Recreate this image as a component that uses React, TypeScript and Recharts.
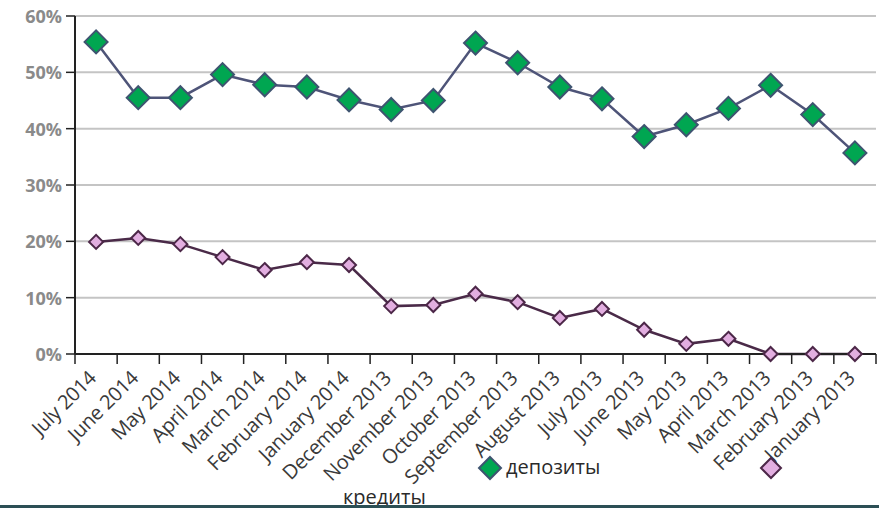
import React from "react";
import {
  LineChart,
  Line,
  XAxis,
  YAxis,
  CartesianGrid,
} from "recharts";

const months = [
  "July 2014",
  "June 2014",
  "May 2014",
  "April 2014",
  "March 2014",
  "February 2014",
  "January 2014",
  "December 2013",
  "November 2013",
  "October 2013",
  "September 2013",
  "August 2013",
  "July 2013",
  "June 2013",
  "May 2013",
  "April 2013",
  "March 2013",
  "February 2013",
  "January 2013",
];

// shares, in percent
const deposits = [
  55.4, 45.5, 45.5, 49.6, 47.8, 47.4, 45.1, 43.4, 45.0, 55.2, 51.7, 47.4,
  45.3, 38.6, 40.7, 43.6, 47.7, 42.5, 35.7,
];
const credits = [
  19.9, 20.6, 19.5, 17.2, 14.9, 16.3, 15.8, 8.5, 8.7, 10.7, 9.2, 6.4, 8.0,
  4.3, 1.8, 2.7, 0, 0, 0,
];
const yTicks = [0, 10, 20, 30, 40, 50, 60];
const seriesNames = ["депозиты", "кредиты"];

const W = 879;
const H = 508;
const LEFT = 75;
const RIGHT = 3;
const TOP = 16;
const X_AXIS_H = 154;
const BAND = (W - LEFT - RIGHT) / months.length;

const rows = months.map((m, i) => ({
  month: m,
  deposits: deposits[i],
  credits: credits[i],
}));

const FONT = "'Open Sans', 'DejaVu Sans', sans-serif";

function diamond(size: number, fill: string, stroke: string, sw: number) {
  return (props: any) => {
    const { cx, cy, index } = props;
    if (cx == null || cy == null) return <g key={index} />;
    const r = size / 2;
    return (
      <path
        key={index}
        d={`M${cx},${cy - r}L${cx + r},${cy}L${cx},${cy + r}L${cx - r},${cy}Z`}
        fill={fill}
        stroke={stroke}
        strokeWidth={sw}
      />
    );
  };
}

const depositDot = diamond(23, "#00a651", "#3e5470", 2);
const creditDot = diamond(14, "#e2aee0", "#4c2748", 2);

// Month labels rotated 45°, with tick marks placed between categories
function MonthTick(props: any) {
  const { x, y, payload, index } = props;
  const left = x - BAND / 2;
  const ax = x - 4;
  const ay = y + 12;
  return (
    <g>
      <line x1={left} y1={y - 8} x2={left} y2={y + 2} stroke="#222" strokeWidth={1.5} />
      {index === months.length - 1 && (
        <line x1={x + BAND / 2} y1={y - 8} x2={x + BAND / 2} y2={y + 2} stroke="#222" strokeWidth={1.5} />
      )}
      <text
        x={ax}
        y={ay}
        transform={`rotate(-45, ${ax}, ${ay})`}
        textAnchor="end"
        dominantBaseline="central"
        fontFamily={FONT}
        fontSize={20}
        letterSpacing={-0.3}
        fill="#3a3a3a"
      >
        {payload.value}
      </text>
    </g>
  );
}

function PercentTick(props: any) {
  const { x, y, payload } = props;
  return (
    <text
      x={x - 2}
      y={y}
      textAnchor="end"
      dominantBaseline="central"
      fontFamily={FONT}
      fontSize={18}
      fontWeight={700}
      fill="#8a8a8a"
    >
      {payload.value}%
    </text>
  );
}

// Legend laid over the lower part of the chart
function LegendOverlay() {
  const text = {
    position: "absolute" as const,
    fontFamily: FONT,
    fontSize: 20,
    color: "#2a2a2a",
    lineHeight: "22px",
    whiteSpace: "nowrap" as const,
  };
  return (
    <>
      <svg
        width={W}
        height={H}
        style={{ position: "absolute", left: 0, top: 0, pointerEvents: "none" }}
      >
        <path d="M490,457L501,468L490,479L479,468Z" fill="#00a651" stroke="#3e5470" strokeWidth={2} />
        <path d="M771,458L781,468L771,478L761,468Z" fill="#e2aee0" stroke="#4c2748" strokeWidth={2} />
      </svg>
      <div style={{ ...text, left: 506, top: 456 }}>{seriesNames[0]}</div>
      <div style={{ ...text, left: 343, top: 486 }}>{seriesNames[1]}</div>
    </>
  );
}

export default function App() {
  return (
    <div
      style={{
        position: "absolute",
        left: 0,
        top: 0,
        width: W,
        height: H,
        overflow: "hidden",
        background: "#fff",
      }}
    >
      <LineChart
        width={W}
        height={H}
        data={rows}
        margin={{ top: TOP, right: RIGHT, left: 0, bottom: 0 }}
      >
        <CartesianGrid vertical={false} stroke="#c4c4c4" strokeWidth={2} />
        <XAxis
          dataKey="month"
          interval={0}
          height={X_AXIS_H}
          padding={{ left: BAND / 2, right: BAND / 2 }}
          tickLine={false}
          axisLine={{ stroke: "#222", strokeWidth: 2 }}
          tick={<MonthTick />}
        />
        <YAxis
          width={LEFT}
          domain={[0, 60]}
          ticks={yTicks}
          interval={0}
          tickSize={9}
          tickLine={{ stroke: "#222", strokeWidth: 1.5 }}
          axisLine={{ stroke: "#222", strokeWidth: 2 }}
          tick={<PercentTick />}
        />
        <Line
          dataKey="credits"
          name={seriesNames[1]}
          stroke="#4a2a48"
          strokeWidth={2.5}
          dot={creditDot}
          isAnimationActive={false}
        />
        <Line
          dataKey="deposits"
          name={seriesNames[0]}
          stroke="#4e5478"
          strokeWidth={2.5}
          dot={depositDot}
          isAnimationActive={false}
        />
      </LineChart>
      <LegendOverlay />
      <div
        style={{
          position: "absolute",
          left: 0,
          top: 505,
          width: W,
          height: 3,
          background: "#2c4f55",
        }}
      />
    </div>
  );
}
